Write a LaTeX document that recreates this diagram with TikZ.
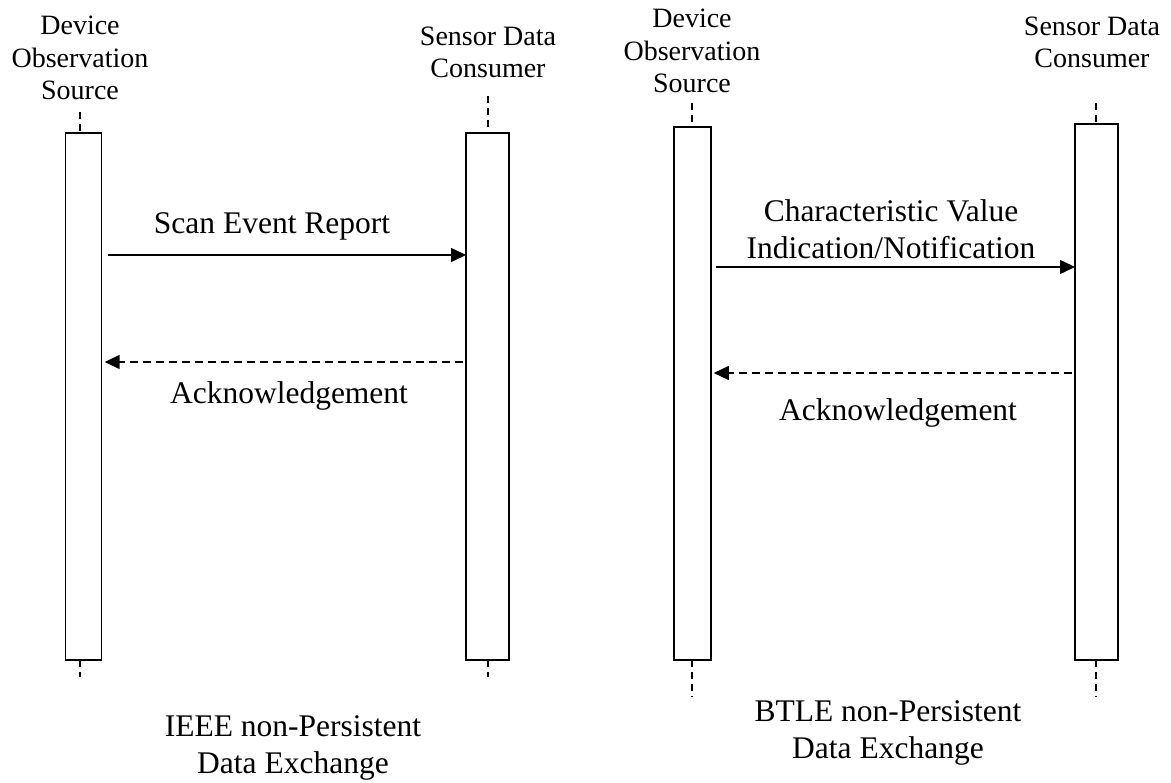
\documentclass[tikz,border=0pt]{standalone}
\usepackage{fontspec}
\setmainfont{Liberation Serif}
\usetikzlibrary{arrows.meta,calc}
\begin{document}
\begin{tikzpicture}[x=1pt,y=-1pt,
  lifebox/.style={draw,line width=1.5pt,inner sep=0pt,outer sep=0pt},
  lifedash/.style={line width=1.5pt,dash pattern=on 7pt off 5pt},
  msg/.style={line width=1.5pt,-{Triangle[length=15pt,width=14pt]}},
  reply/.style={msg,dash pattern=on 8pt off 5pt},
  msglabel/.style={font=\fontsize{31.5}{36.5}\selectfont,align=center,anchor=base,inner sep=0pt},
  headlabel/.style={font=\fontsize{28}{32.5}\selectfont,align=center,anchor=base,inner sep=0pt}]
\useasboundingbox (0,0) rectangle (1171,783);

% ---------- left panel ----------
\node[lifebox,minimum width=36pt,minimum height=527pt] (l1) at (83.7,396.5) {};
\node[lifebox,minimum width=43pt,minimum height=527pt] (l2) at (487.5,396.5) {};
\node[headlabel] (hl1) at (80,100) {Device\\Observation\\Source};
\node[headlabel] (hl2) at (488,78) {Sensor Data\\Consumer};
\coordinate (l1t) at (80,112); \coordinate (l1b) at (80,677);
\coordinate (l2t) at (488,96); \coordinate (l2b) at (488,677);
\draw[lifedash] (l1t) -- (l1t |- l1.north);
\draw[lifedash] (l1b |- l1.south) -- (l1b);
\draw[lifedash] (l2t) -- (l2t |- l2.north);
\draw[lifedash] (l2b |- l2.south) -- (l2b);
\draw[msg] ([xshift=6pt]l1.east |- 0,255) -- (l2.west |- 0,255);
\draw[reply] ([xshift=-3pt]l2.west |- 0,362) -- ([xshift=3pt]l1.east |- 0,362);
\node[msglabel] (scan) at (272,234) {Scan Event Report};
\node[msglabel] (ack1) at (289,404) {Acknowledgement};
\node[msglabel] (ieee) at (293,773) {IEEE non-Persistent\\Data Exchange};

% ---------- right panel ----------
\node[lifebox,minimum width=37pt,minimum height=533pt] (r1) at (692.3,393.5) {};
\node[lifebox,minimum width=43pt,minimum height=536pt] (r2) at (1096.5,392) {};
\node[headlabel] (hr1) at (692,93) {Device\\Observation\\Source};
\node[headlabel] (hr2) at (1092,68) {Sensor Data\\Consumer};
\coordinate (r1t) at (692,103); \coordinate (r1b) at (692,697);
\coordinate (r2t) at (1096,103); \coordinate (r2b) at (1096,697);
\draw[lifedash] (r1t) -- (r1t |- r1.north);
\draw[lifedash] (r1b |- r1.south) -- (r1b);
\draw[lifedash] (r2t) -- (r2t |- r2.north);
\draw[lifedash] (r2b |- r2.south) -- (r2b);
\draw[msg] ([xshift=5pt]r1.east |- 0,267) -- (r2.west |- 0,267);
\draw[reply] ([xshift=-3pt]r2.west |- 0,373) -- ([xshift=3pt]r1.east |- 0,373);
\node[msglabel] (char) at (891,258.3) {Characteristic Value\\Indication/Notification};
\node[msglabel] (ack2) at (898,420.7) {Acknowledgement};
\node[msglabel] (btle) at (888,758) {BTLE non-Persistent\\Data Exchange};
\end{tikzpicture}
\end{document}
